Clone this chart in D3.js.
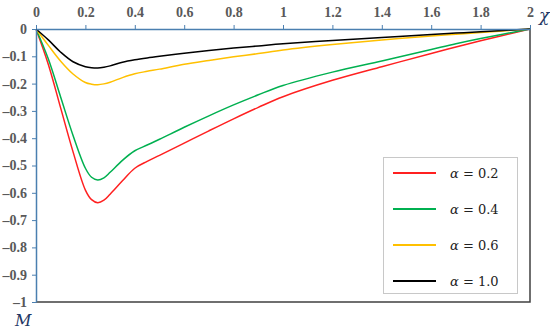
<!DOCTYPE html>
<html>
<head>
<meta charset="utf-8">
<script src="https://cdn.jsdelivr.net/npm/d3@7"></script>
<style>
  body { margin: 0; background: #fff; }
  svg { display: block; }
</style>
</head>
<body>
<div id="chart"></div>
<script>
// values
const xs = [0, 0.05, 0.1, 0.15, 0.2, 0.225, 0.25, 0.275, 0.3, 0.35, 0.4, 0.45, 0.5, 0.6, 0.7, 0.8, 0.9, 1.0, 1.2, 1.4, 1.6, 1.7, 1.8, 2.0];
const m02 = [0, -0.13, -0.29, -0.45, -0.59, -0.625, -0.636, -0.627, -0.605, -0.556, -0.51, -0.485, -0.463, -0.418, -0.373, -0.329, -0.287, -0.248, -0.188, -0.138, -0.09, -0.066, -0.043, 0];
const m04 = [0, -0.11, -0.25, -0.39, -0.51, -0.543, -0.553, -0.545, -0.525, -0.481, -0.446, -0.425, -0.404, -0.36, -0.318, -0.278, -0.241, -0.207, -0.158, -0.117, -0.075, -0.054, -0.035, 0];
const m06 = [0, -0.06, -0.118, -0.165, -0.196, -0.202, -0.204, -0.201, -0.195, -0.178, -0.164, -0.155, -0.147, -0.129, -0.115, -0.102, -0.09, -0.077, -0.057, -0.04, -0.026, -0.019, -0.013, 0];
const m10 = [0, -0.04, -0.085, -0.12, -0.138, -0.142, -0.143, -0.14, -0.135, -0.122, -0.113, -0.106, -0.1, -0.089, -0.079, -0.07, -0.062, -0.054, -0.042, -0.031, -0.02, -0.015, -0.01, 0];
const labels = ["0.2", "0.4", "0.6", "1.0"];
const colors = ["#ff2020", "#00b050", "#ffc000", "#000000"];
const xTicks = [0, 0.2, 0.4, 0.6, 0.8, 1, 1.2, 1.4, 1.6, 1.8, 2];
const yTicks = [0, -0.1, -0.2, -0.3, -0.4, -0.5, -0.6, -0.7, -0.8, -0.9, -1];

const width = 550, height = 331;
const margin = { top: 29, right: 20, bottom: 29, left: 36 };

const svg = d3.select("#chart").append("svg")
  .attr("width", width)
  .attr("height", height);

const x = d3.scaleLinear().domain([0, 2]).range([margin.left, width - margin.right]);
const y = d3.scaleLinear().domain([-1, 0]).range([height - margin.bottom, margin.top]);

const series = [m02, m04, m06, m10];

// right and bottom frame
svg.append("path")
  .attr("d", `M${x(2)},${y(0)}V${y(-1)}H${x(0)}`)
  .attr("fill", "none")
  .attr("stroke", "#404040")
  .attr("stroke-width", 1.5);

// legend box
const lg = svg.append("g");
lg.append("rect")
  .attr("x", 383.5).attr("y", 157.5)
  .attr("width", 134).attr("height", 136)
  .attr("fill", "#fff")
  .attr("stroke", "#c8c8c8");

labels.forEach((t, i) => {
  const yy = 173 + i * 36;
  lg.append("line")
    .attr("x1", 393).attr("x2", 436)
    .attr("y1", yy).attr("y2", yy)
    .attr("stroke", colors[i]).attr("stroke-width", 2);
  lg.append("text")
    .attr("x", 450).attr("y", yy + 5)
    .attr("font-family", "DejaVu Serif")
    .attr("font-size", 13)
    .attr("fill", "#222")
    .html(`<tspan font-style="italic">\u03b1</tspan> = ${t}`);
});

const line = d3.line()
  .x((d, i) => x(xs[i]))
  .y(d => y(d))
  .curve(d3.curveCatmullRom.alpha(0.5));

svg.append("g")
  .selectAll("path")
  .data(series)
  .join("path")
    .attr("d", d => line(d))
    .attr("fill", "none")
    .attr("stroke", (d, i) => colors[i])
    .attr("stroke-width", 1.5);

// axes
const axisColor = "#4a7fb0";
const tickFmt = d => (d < 0 ? "\u2013" + Math.abs(d) : String(d));

const xAxis = svg.append("g")
  .attr("transform", `translate(0,${y(0)})`)
  .call(d3.axisTop(x).tickValues(xTicks).tickFormat(tickFmt).tickSizeInner(4).tickSizeOuter(0).tickPadding(8));

const yAxis = svg.append("g")
  .attr("transform", `translate(${x(0)},0)`)
  .call(d3.axisLeft(y).tickValues(yTicks).tickFormat(tickFmt).tickSizeInner(4).tickSizeOuter(0).tickPadding(5));

[xAxis, yAxis].forEach(g => {
  g.select(".domain").attr("stroke", axisColor).attr("stroke-width", 1.5);
  g.selectAll(".tick line").attr("stroke", axisColor);
  g.selectAll(".tick text")
    .attr("font-family", "Liberation Serif")
    .attr("font-weight", "bold")
    .attr("font-size", 14)
    .attr("fill", "#595959");
});

// axis names
svg.append("text")
  .attr("x", 539).attr("y", 21)
  .attr("font-family", "DejaVu Serif")
  .attr("font-style", "italic")
  .attr("font-size", 17)
  .attr("fill", "#1f3864")
  .text("\u03c7");

svg.append("text")
  .attr("x", 15).attr("y", 326)
  .attr("font-family", "DejaVu Serif")
  .attr("font-style", "italic")
  .attr("font-size", 16)
  .attr("fill", "#1f3864")
  .text("M");
</script>
</body>
</html>
